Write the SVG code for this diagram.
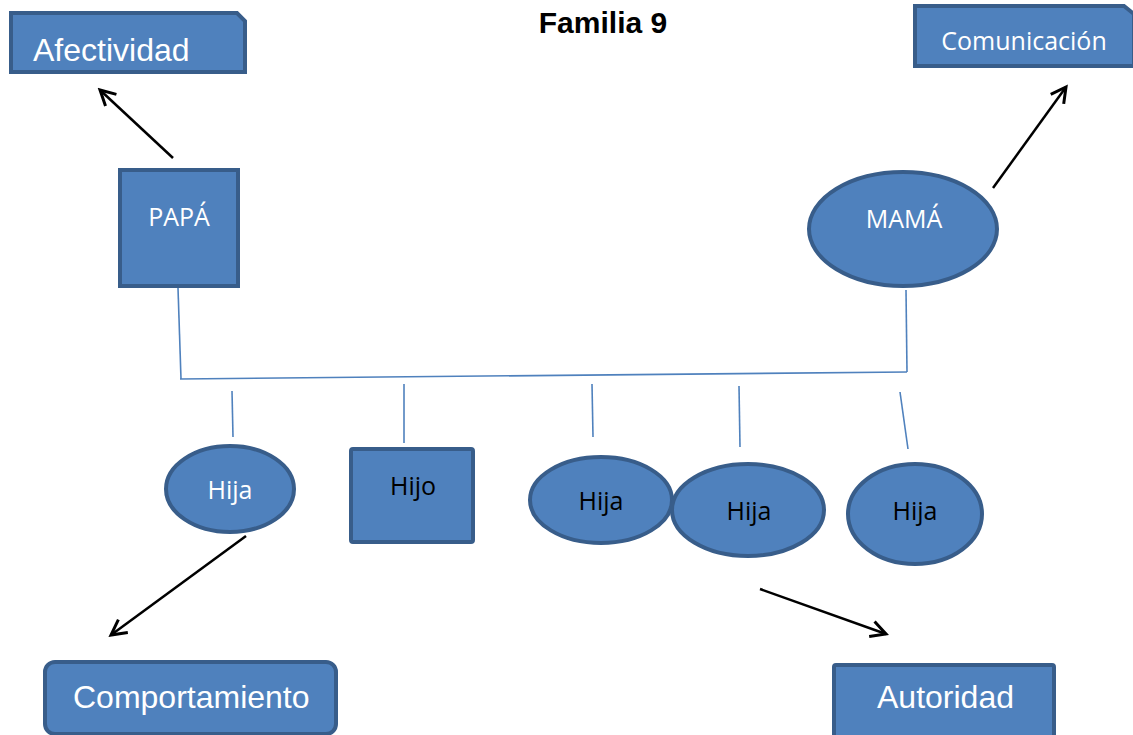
<svg xmlns="http://www.w3.org/2000/svg" width="1133" height="735" viewBox="0 0 1133 735">
<defs>
<style>
.box{fill:#4F81BD;stroke:#385D8A;stroke-width:4}
.ln{stroke:#4F81BD;stroke-width:1.6;fill:none}
.ar{stroke:#000;stroke-width:2.5;fill:none;marker-end:url(#ah)}
.big{font-family:"Liberation Sans",Arial,sans-serif;font-size:32px;fill:#fff}
.cal{font-family:"Open Sans","Noto Sans",sans-serif;font-size:25px;text-anchor:middle}
.w{fill:#fff}
.k{fill:#000}
</style>
<marker id="ah" viewBox="0 0 20 20" refX="17" refY="10" markerWidth="8" markerHeight="8" markerUnits="strokeWidth" orient="auto">
<path d="M2,2 L17,10 L2,18" fill="none" stroke="#000" stroke-width="3"/>
</marker>
</defs>
<rect width="1133" height="735" fill="#fff"/>
<text x="603" y="33" font-family="Liberation Sans,Arial,sans-serif" font-size="30" font-weight="bold" text-anchor="middle">Familia 9</text>
<g id="connectors">
<path class="ln" d="M178,288 L181,379"/>
<path class="ln" d="M180,379 L907,372"/>
<path class="ln" d="M906,290 L907,372"/>
<path class="ln" d="M232,391 L233,437"/>
<path class="ln" d="M404,384 L404,443"/>
<path class="ln" d="M592,384 L593,437"/>
<path class="ln" d="M739,386 L740,447"/>
<path class="ln" d="M900,392 L908,449"/>
<path class="ar" d="M173,158 L100,90"/>
<path class="ar" d="M993,188 L1066,87"/>
<path class="ar" d="M246,536 L111,635"/>
<path class="ar" d="M760,589 L886,634"/>
</g>
<g id="afectividad">
<path class="box" d="M11,13 H237 L245,21 V72 H11 Z"/>
<text class="big" x="33" y="61">Afectividad</text>
</g>
<g id="comunicacion">
<path class="box" d="M915,6 H1124 L1134,14 V66 H915 Z"/>
<text class="cal w" x="1024" y="50">Comunicación</text>
</g>
<g id="papa">
<rect class="box" x="120" y="170" width="118" height="116"/>
<text class="cal w" x="179" y="226">PAPÁ</text>
</g>
<g id="mama">
<ellipse class="box" cx="903" cy="229" rx="94" ry="57"/>
<text class="cal w" x="904" y="228">MAMÁ</text>
</g>
<g id="hija1">
<ellipse class="box" cx="230" cy="489" rx="64" ry="43"/>
<text class="cal w" x="230" y="499">Hija</text>
</g>
<g id="hijo">
<rect class="box" x="351" y="449" width="122" height="93" rx="2"/>
<text class="cal k" x="413" y="495">Hijo</text>
</g>
<g id="hija2">
<ellipse class="box" cx="601" cy="500" rx="71" ry="43"/>
<text class="cal k" x="601" y="510">Hija</text>
</g>
<g id="hija3">
<ellipse class="box" cx="748" cy="510" rx="76" ry="46"/>
<text class="cal k" x="749" y="520">Hija</text>
</g>
<g id="hija4">
<ellipse class="box" cx="915" cy="514" rx="67" ry="50"/>
<text class="cal k" x="915" y="520">Hija</text>
</g>
<g id="comportamiento">
<rect class="box" x="45" y="662" width="291" height="72" rx="10"/>
<text class="big" x="73" y="708">Comportamiento</text>
</g>
<g id="autoridad">
<rect class="box" x="834" y="665" width="220" height="75" rx="2"/>
<text class="big" x="877" y="708">Autoridad</text>
</g>
</svg>
